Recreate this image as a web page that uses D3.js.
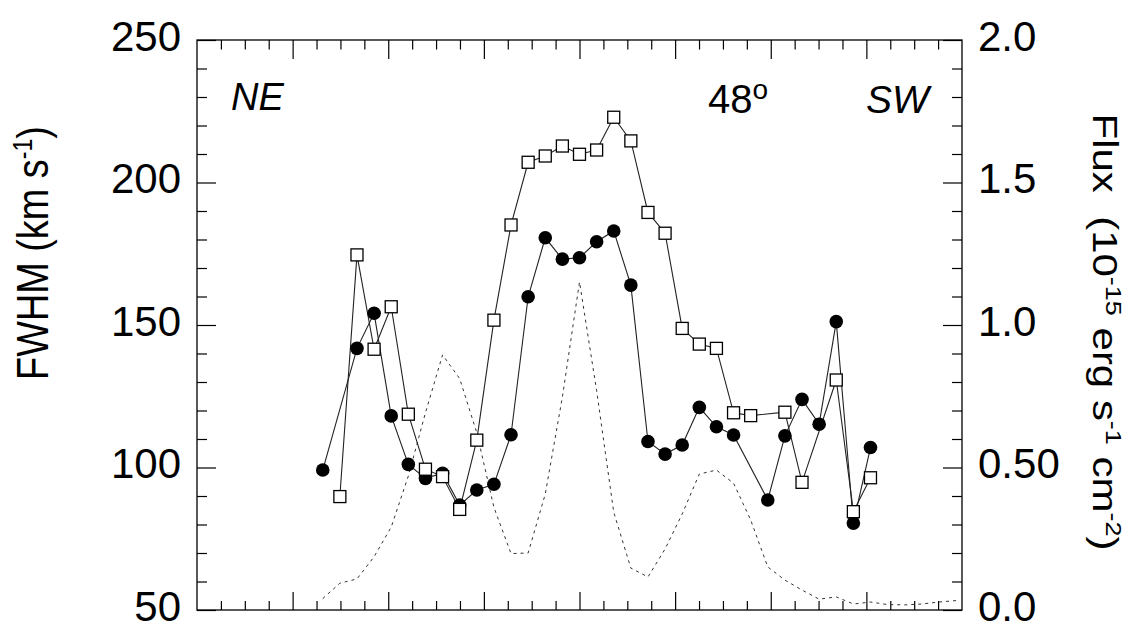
<!DOCTYPE html>
<html>
<head>
<meta charset="utf-8">
<script src="https://cdn.jsdelivr.net/npm/d3@7"></script>
<style>
  body { margin: 0; background: #fff; }
  svg { font-family: "Liberation Sans", Arial, Helvetica, sans-serif; }
</style>
</head>
<body>
<svg id="chart" width="1138" height="629"></svg>
<script>
// slit offset (arcsec) of each sample
const pos = [-2.685, -2.506, -2.327, -2.148, -1.969, -1.790, -1.611, -1.432, -1.253, -1.074,
  -0.895, -0.716, -0.537, -0.358, -0.179, 0, 0.179, 0.358, 0.537, 0.716,
  0.895, 1.074, 1.253, 1.432, 1.611, 1.790, 1.969, 2.148, 2.327, 2.506,
  2.685, 2.864, 3.043, 3.222, 3.401, 3.580, 3.759, 3.938];

// FWHM, filled circles
const fwhmCircle = [99.1, null, 141.8, 154.1, 118.1, 101.1, 96.2, 98.0, 86.8, 92.1,
  94.1, 111.5, 159.9, 180.6, 173.1, 173.6, 179.2, 183.0, 164.0, 109.1,
  104.7, 107.9, 121.1, 114.3, 111.4, null, 88.6, 111.1, 123.9, 115.2,
  151.2, 80.5, 107.0];

// FWHM, open squares
const fwhmSquare = [null, 89.8, 174.6, 141.5, 156.4, 118.7, 99.4, 96.8, 85.3, 109.6,
  151.7, 185.1, 207.1, 209.3, 212.8, 209.9, 211.4, 222.9, 214.6, 189.5,
  182.2, 148.8, 143.3, 141.8, 119.2, 118.2, null, 119.4, 94.8, null,
  130.7, 84.5, 96.4];

// flux profile, dashed line (right axis)
const flux = [0.040, 0.094, 0.109, 0.187, 0.291, 0.470, 0.692, 0.895, 0.812, 0.622,
  0.360, 0.198, 0.200, 0.407, 0.747, 1.151, 0.770, 0.343, 0.147, 0.116,
  0.214, 0.337, 0.477, 0.491, 0.445, 0.316, 0.151, 0.105, 0.070, 0.038,
  0.046, 0.021, 0.028, 0.019, 0.018, 0.021, 0.028, 0.033];

const leftTicks = [50, 100, 150, 200, 250];
const rightTicks = [0, 0.5, 1.0, 1.5, 2.0];
const rightTickLabels = ['0.0', '0.50', '1.0', '1.5', '2.0'];
const xMajor = [-3, -2, -1, 0, 1, 2, 3];

let svg = d3.select('#chart');
let margin = {left: 197, top: 40, right: 176, bottom: 19};
let W = 1138 - margin.left - margin.right;
let H = 629 - margin.top - margin.bottom;

let g = svg.append('g')
  .attr('transform', `translate(${margin.left},${margin.top})`);

let x = d3.scaleLinear().domain([-4, 4]).range([0, W]);
let y = d3.scaleLinear().domain([50, 250]).range([H, 0]);
let y2 = d3.scaleLinear().domain([0, 2]).range([H, 0]);

let minorOf = (lo, hi, step, majors) => d3.range(lo, hi + step / 2, step)
  .map(v => +v.toFixed(3))
  .filter(v => !majors.some(m => Math.abs(m - v) < 1e-6));

let styleAxis = sel => {
  sel.select('.domain').remove();
  sel.selectAll('line').style('stroke', '#000').style('stroke-width', 1.2);
  sel.selectAll('text')
    .style('font-size', '42px')
    .style('fill', '#000');
};

// left axis
g.append('g')
  .call(d3.axisLeft(y).tickValues(leftTicks).tickSize(-19).tickPadding(16))
  .call(styleAxis)
  .selectAll('text').attr('dy', 10);
g.append('g')
  .call(d3.axisLeft(y).tickValues(minorOf(50, 250, 10, leftTicks)).tickSize(-10).tickFormat(''))
  .call(styleAxis);

// right axis
g.append('g')
  .attr('transform', `translate(${W},0)`)
  .call(d3.axisRight(y2).tickValues(rightTicks).tickSize(-19).tickPadding(16)
    .tickFormat((d, i) => rightTickLabels[i]))
  .call(styleAxis)
  .selectAll('text').attr('dy', 10);
g.append('g')
  .attr('transform', `translate(${W},0)`)
  .call(d3.axisRight(y2).tickValues(minorOf(0, 2, 0.1, rightTicks)).tickSize(-10).tickFormat(''))
  .call(styleAxis);

// top and bottom axes, no labels
let xMinor = minorOf(-4, 4, 0.25, xMajor.concat([-4, 4]));
g.append('g')
  .call(d3.axisTop(x).tickValues(xMajor).tickSize(-19).tickFormat(''))
  .call(styleAxis);
g.append('g')
  .call(d3.axisTop(x).tickValues(xMinor).tickSize(-9.5).tickFormat(''))
  .call(styleAxis);
g.append('g')
  .attr('transform', `translate(0,${H})`)
  .call(d3.axisBottom(x).tickValues(xMajor).tickSize(-18).tickFormat(''))
  .call(styleAxis);
g.append('g')
  .attr('transform', `translate(0,${H})`)
  .call(d3.axisBottom(x).tickValues(xMinor).tickSize(-9).tickFormat(''))
  .call(styleAxis);

// frame
g.append('rect')
  .attr('width', W)
  .attr('height', H)
  .style('fill', 'none')
  .style('stroke', '#000')
  .style('stroke-width', 1.3);

// flux profile
let fluxPts = flux.map((v, i) => [pos[i], v]);
g.append('path')
  .datum(fluxPts)
  .attr('d', d3.line().x(d => x(d[0])).y(d => y2(d[1])))
  .style('fill', 'none')
  .style('stroke', '#333')
  .style('stroke-width', 1)
  .style('stroke-dasharray', '3,4');

let pts = arr => arr.map((v, i) => [pos[i], v]).filter(d => d[1] != null);
let circlePts = pts(fwhmCircle);
let squarePts = pts(fwhmSquare);
let fwhmLine = d3.line().x(d => x(d[0])).y(d => y(d[1]));

[circlePts, squarePts].forEach(data => {
  g.append('path')
    .datum(data)
    .attr('d', fwhmLine)
    .style('fill', 'none')
    .style('stroke', '#222')
    .style('stroke-width', 1.1);
});

g.append('g').selectAll('circle')
  .data(circlePts)
  .enter().append('circle')
  .attr('cx', d => x(d[0]))
  .attr('cy', d => y(d[1]))
  .attr('r', 6.8)
  .style('fill', '#000');

let sq = 12;
g.append('g').selectAll('rect')
  .data(squarePts)
  .enter().append('rect')
  .attr('x', d => x(d[0]) - sq / 2)
  .attr('y', d => y(d[1]) - sq / 2)
  .attr('width', sq)
  .attr('height', sq)
  .style('fill', '#fff')
  .style('stroke', '#000')
  .style('stroke-width', 1.3);

// annotations
svg.append('text')
  .attr('x', 231).attr('y', 110)
  .style('font-size', '38px').style('font-style', 'italic')
  .text('NE');
svg.append('text')
  .attr('x', 866).attr('y', 113)
  .style('font-size', '39px').style('font-style', 'italic')
  .text('SW');
let deg = svg.append('text')
  .attr('x', 708).attr('y', 113)
  .style('font-size', '40px');
deg.append('tspan').text('48');
deg.append('tspan').attr('dy', -14).style('font-size', '28px').text('o');

// left title
let lt = svg.append('text')
  .attr('transform', 'translate(48,253) rotate(-90) scale(0.86,1)')
  .style('text-anchor', 'middle')
  .style('font-size', '44px');
lt.append('tspan').text('FWHM (km s');
lt.append('tspan').attr('dy', -16).style('font-size', '27px').text('-1');
lt.append('tspan').attr('dy', 16).text(')');

// right title
let rt = svg.append('text')
  .attr('transform', 'translate(1093,332) rotate(90) scale(1,0.82)')
  .style('text-anchor', 'middle')
  .style('font-size', '42px')
  .style('white-space', 'pre');
rt.append('tspan').text('Flux  (10');
rt.append('tspan').attr('dy', -16).style('font-size', '27px').text('-15');
rt.append('tspan').attr('dy', 16).text(' erg s');
rt.append('tspan').attr('dy', -16).style('font-size', '27px').text('-1');
rt.append('tspan').attr('dy', 16).text(' cm');
rt.append('tspan').attr('dy', -16).style('font-size', '27px').text('-2');
rt.append('tspan').attr('dy', 16).text(')');
</script>
</body>
</html>
